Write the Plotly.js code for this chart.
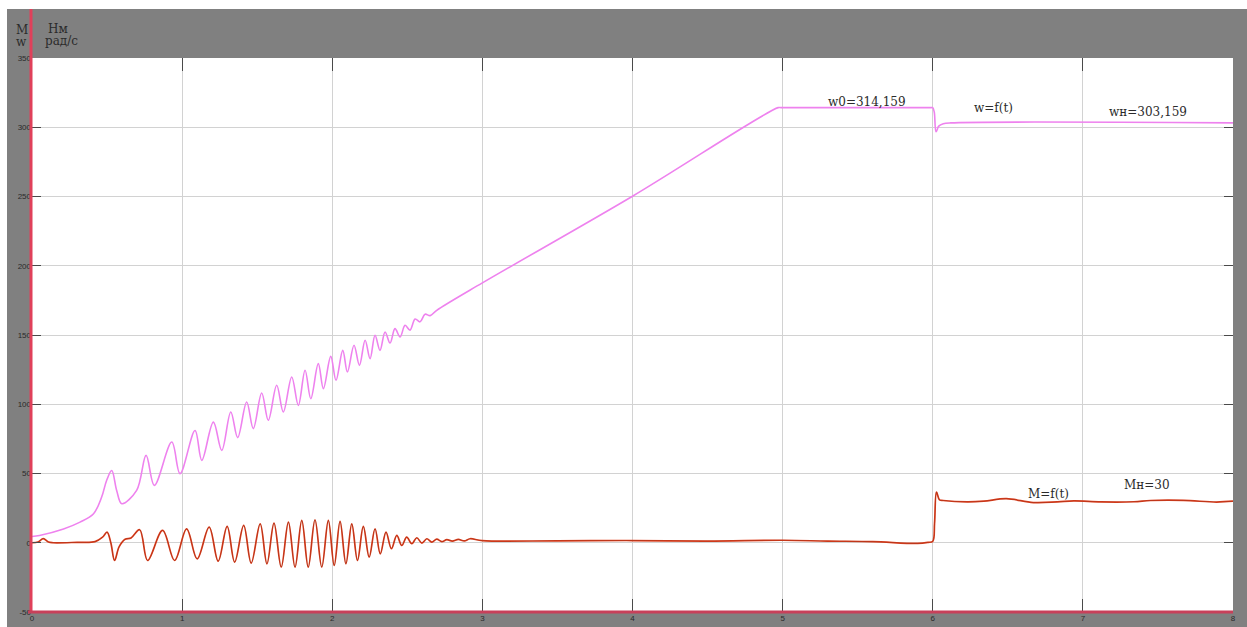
<!DOCTYPE html>
<html>
<head>
<meta charset="utf-8">
<script src="https://cdn.plot.ly/plotly-3.0.1.min.js"></script>
<style>
  html, body { margin: 0; padding: 0; background: #ffffff; }
  #chart { width: 1247px; height: 627px; }
</style>
</head>
<body>
<div id="chart"></div>
<script>
// Steady-state values shown in the labels
const w0 = 314.159;   // synchronous speed, rad/s
const wN = 303.159;   // rated speed, rad/s
const MN = 30;        // rated torque, N·m

// Rotor speed w(t), rad/s
const tW = [0, 0.05, 0.21, 0.32, 0.41, 0.464, 0.497, 0.531, 0.564, 0.598, 0.697,
  0.760, 0.815, 0.931, 0.986, 1.086, 1.131, 1.208, 1.264, 1.324, 1.370, 1.430, 1.474,
  1.530, 1.574, 1.630, 1.674, 1.730, 1.774, 1.819, 1.857, 1.907, 1.941, 1.990, 2.025,
  2.070, 2.101, 2.145, 2.181, 2.219, 2.252, 2.285, 2.318, 2.352, 2.385, 2.418, 2.452,
  2.485, 2.518, 2.552, 2.585, 2.618, 2.652, 2.696, 3.0, 4.0, 4.97, 4.99, 5.99, 6.0,
  6.01, 6.022, 6.04, 6.07, 6.12, 8.0];
const wVal = [4.5, 5.3, 10, 14.9, 21, 33, 45, 52.2, 37.8, 28.2, 37.8,
  63.1, 41.4, 72.7, 49.9, 81.1, 59.5, 87.1, 66.7, 94.4, 75.9, 101.6, 82.4,
  108.1, 88.4, 113.7, 94.4, 119.7, 99.2, 124.5, 104.0, 129.3, 111.3, 134.6, 117.3,
  138.9, 123.3, 142.6, 128.1, 146.2, 132.9, 149.8, 138.9, 152.2, 144.2, 154.6, 148.6,
  157.0, 153.5, 161.5, 159.5, 165.0, 164.0, 167.8, 187.6, 250.2, w0, w0, w0, w0,
  311.0, 296.7, 300.8, 302.5, wN, wN];

// Electromagnetic torque M(t), N·m
const tM = [0, 0.04, 0.075, 0.11, 0.14, 0.3, 0.42, 0.47, 0.50, 0.525, 0.55, 0.58,
  0.62, 0.66, 0.717, 0.77, 0.87, 0.95, 1.03, 1.10, 1.18, 1.24, 1.30, 1.35, 1.41,
  1.46, 1.52, 1.565, 1.612, 1.66, 1.708, 1.752, 1.797, 1.84, 1.885, 1.93, 1.974,
  2.013, 2.052, 2.091, 2.13, 2.168, 2.207, 2.246, 2.285, 2.32, 2.358, 2.394, 2.43,
  2.463, 2.496, 2.53, 2.563, 2.597, 2.63, 2.663, 2.696, 2.73, 2.763, 2.8, 2.84,
  2.88, 2.918, 3.0, 3.5, 4.0, 4.5, 5.0, 5.3, 5.6, 5.9, 5.97, 6.0, 6.012, 6.025,
  6.045, 6.07, 6.23, 6.34, 6.49, 6.67, 6.83, 6.94, 7.12, 7.34, 7.45, 7.67, 7.89, 8.0];
const MVal = [0, 0.5, 3, 0.5, 0, 0.3, 0.8, 4, 7.7, 0, -12.8, -3,
  2.5, 3.5, 9.4, -12.8, 8.9, -12.8, 10, -11.6, 11.3, -13.3, 11.8, -14, 12.5,
  -14.7, 13.7, -15.2, 14.2, -17.6, 14.9, -17.6, 16.1, -17.6, 16.6, -17.6, 16.1,
  -16.4, 15.4, -15.2, 13.7, -12.8, 11.8, -10.4, 10.1, -8, 7.7, -4.3, 5.3,
  -2, 4.1, -0.7, 3.6, -0.2, 2.9, 0.4, 2.6, 0.8, 2.2, 1.2, 2.4,
  1.3, 2.9, 1.5, 1.4, 1.6, 1.2, 1.8, 1.2, 0.8, -0.5, 0.3, 1, 14, 36.6,
  31, 30.5, 29.5, 30, 31.8, 29, 29.5, 30.2, 29.5, 29.6, 30.5, 30.6, 29.4, MN];

// Axis ticks
const xTicks = [0, 1, 2, 3, 4, 5, 6, 7, 8];
const yTicks = [-50, 0, 50, 100, 150, 200, 250, 300, 350];

const fmt = v => String(v).replace('.', ',');

const serif = {family: 'DejaVu Serif, Liberation Serif, serif', size: 12, color: '#2b2b2b'};

const traces = [
  {x: tW, y: wVal, type: 'scatter', mode: 'lines', name: 'w',
   line: {color: '#ee82ee', width: 1.6, shape: 'spline', smoothing: 1}},
  {x: tM, y: MVal, type: 'scatter', mode: 'lines', name: 'M',
   line: {color: '#e4401e', width: 1.7, shape: 'spline', smoothing: 1}},
  {x: tM, y: MVal, type: 'scatter', mode: 'lines', name: 'M', opacity: 0.3,
   line: {color: '#3a140c', width: 0.8, shape: 'spline', smoothing: 1}}
];

// pixel helpers for the margin decorations
const L = 32, R = 14, T = 58, B = 15, W = 1247, H = 627;
const pw = W - L - R, ph = H - T - B;
const px = v => (v - L) / pw;
const py = v => (H - B - v) / ph;

const axisCommon = {
  showline: false, zeroline: false,
  showgrid: true, gridcolor: '#d2d2d2', gridwidth: 1,
  ticks: 'inside', tickcolor: '#4a4a4a', tickwidth: 1,
  mirror: 'ticks',
  tickfont: {family: 'Liberation Sans, Arial, sans-serif', size: 8, color: '#2a2a2a'},
  fixedrange: true
};

const corner = (x, y, text) => ({xref: 'paper', yref: 'paper', x: px(x), y: py(y), text: text,
  xanchor: 'center', yanchor: 'middle', showarrow: false, font: serif});

const layout = {
  width: W, height: H,
  margin: {l: L, r: R, t: T, b: B, pad: 0},
  paper_bgcolor: '#808080',
  plot_bgcolor: '#ffffff',
  showlegend: false,
  xaxis: Object.assign({}, axisCommon, {
    range: [0, 8], tickmode: 'array', tickvals: xTicks, ticktext: xTicks.map(String),
    ticklen: 13
  }),
  yaxis: Object.assign({}, axisCommon, {
    range: [-50, 350], tickmode: 'array', tickvals: yTicks, ticktext: yTicks.map(String),
    ticklen: 9
  }),
  shapes: [
    // white border strips at the top and left of the frame
    {type: 'rect', xref: 'paper', yref: 'paper', x0: px(-2), x1: px(W + 2), y0: py(9), y1: py(-2),
     fillcolor: '#ffffff', line: {width: 0}, layer: 'below'},
    {type: 'rect', xref: 'paper', yref: 'paper', x0: px(-2), x1: px(7), y0: py(H + 2), y1: py(-2),
     fillcolor: '#ffffff', line: {width: 0}, layer: 'below'},
    // red axis lines
    {type: 'line', xref: 'paper', yref: 'paper', x0: px(31), x1: px(31), y0: py(9), y1: py(613),
     line: {color: '#e0405a', width: 3}, layer: 'above'},
    {type: 'line', xref: 'paper', yref: 'paper', x0: px(28), x1: 1, y0: py(612), y1: py(612),
     line: {color: '#c8405a', width: 3}, layer: 'above'}
  ],
  annotations: [
    corner(22, 30, 'M'),
    corner(21, 42, 'w'),
    corner(58, 29, 'Нм'),
    corner(61.5, 41, 'рад/с'),
    {x: 5.561, y: 318.4, text: 'w0=' + fmt(w0), showarrow: false, font: serif},
    {x: 6.402, y: 313.6, text: 'w=f(t)', showarrow: false, font: serif},
    {x: 7.435, y: 311.1, text: 'wн=' + fmt(wN), showarrow: false, font: serif},
    {x: 6.769, y: 35.4, text: 'M=f(t)', showarrow: false, font: serif},
    {x: 7.428, y: 41.4, text: 'Mн=' + fmt(MN), showarrow: false, font: serif}
  ]
};

Plotly.newPlot('chart', traces, layout, {displayModeBar: false, staticPlot: true});
</script>
</body>
</html>
